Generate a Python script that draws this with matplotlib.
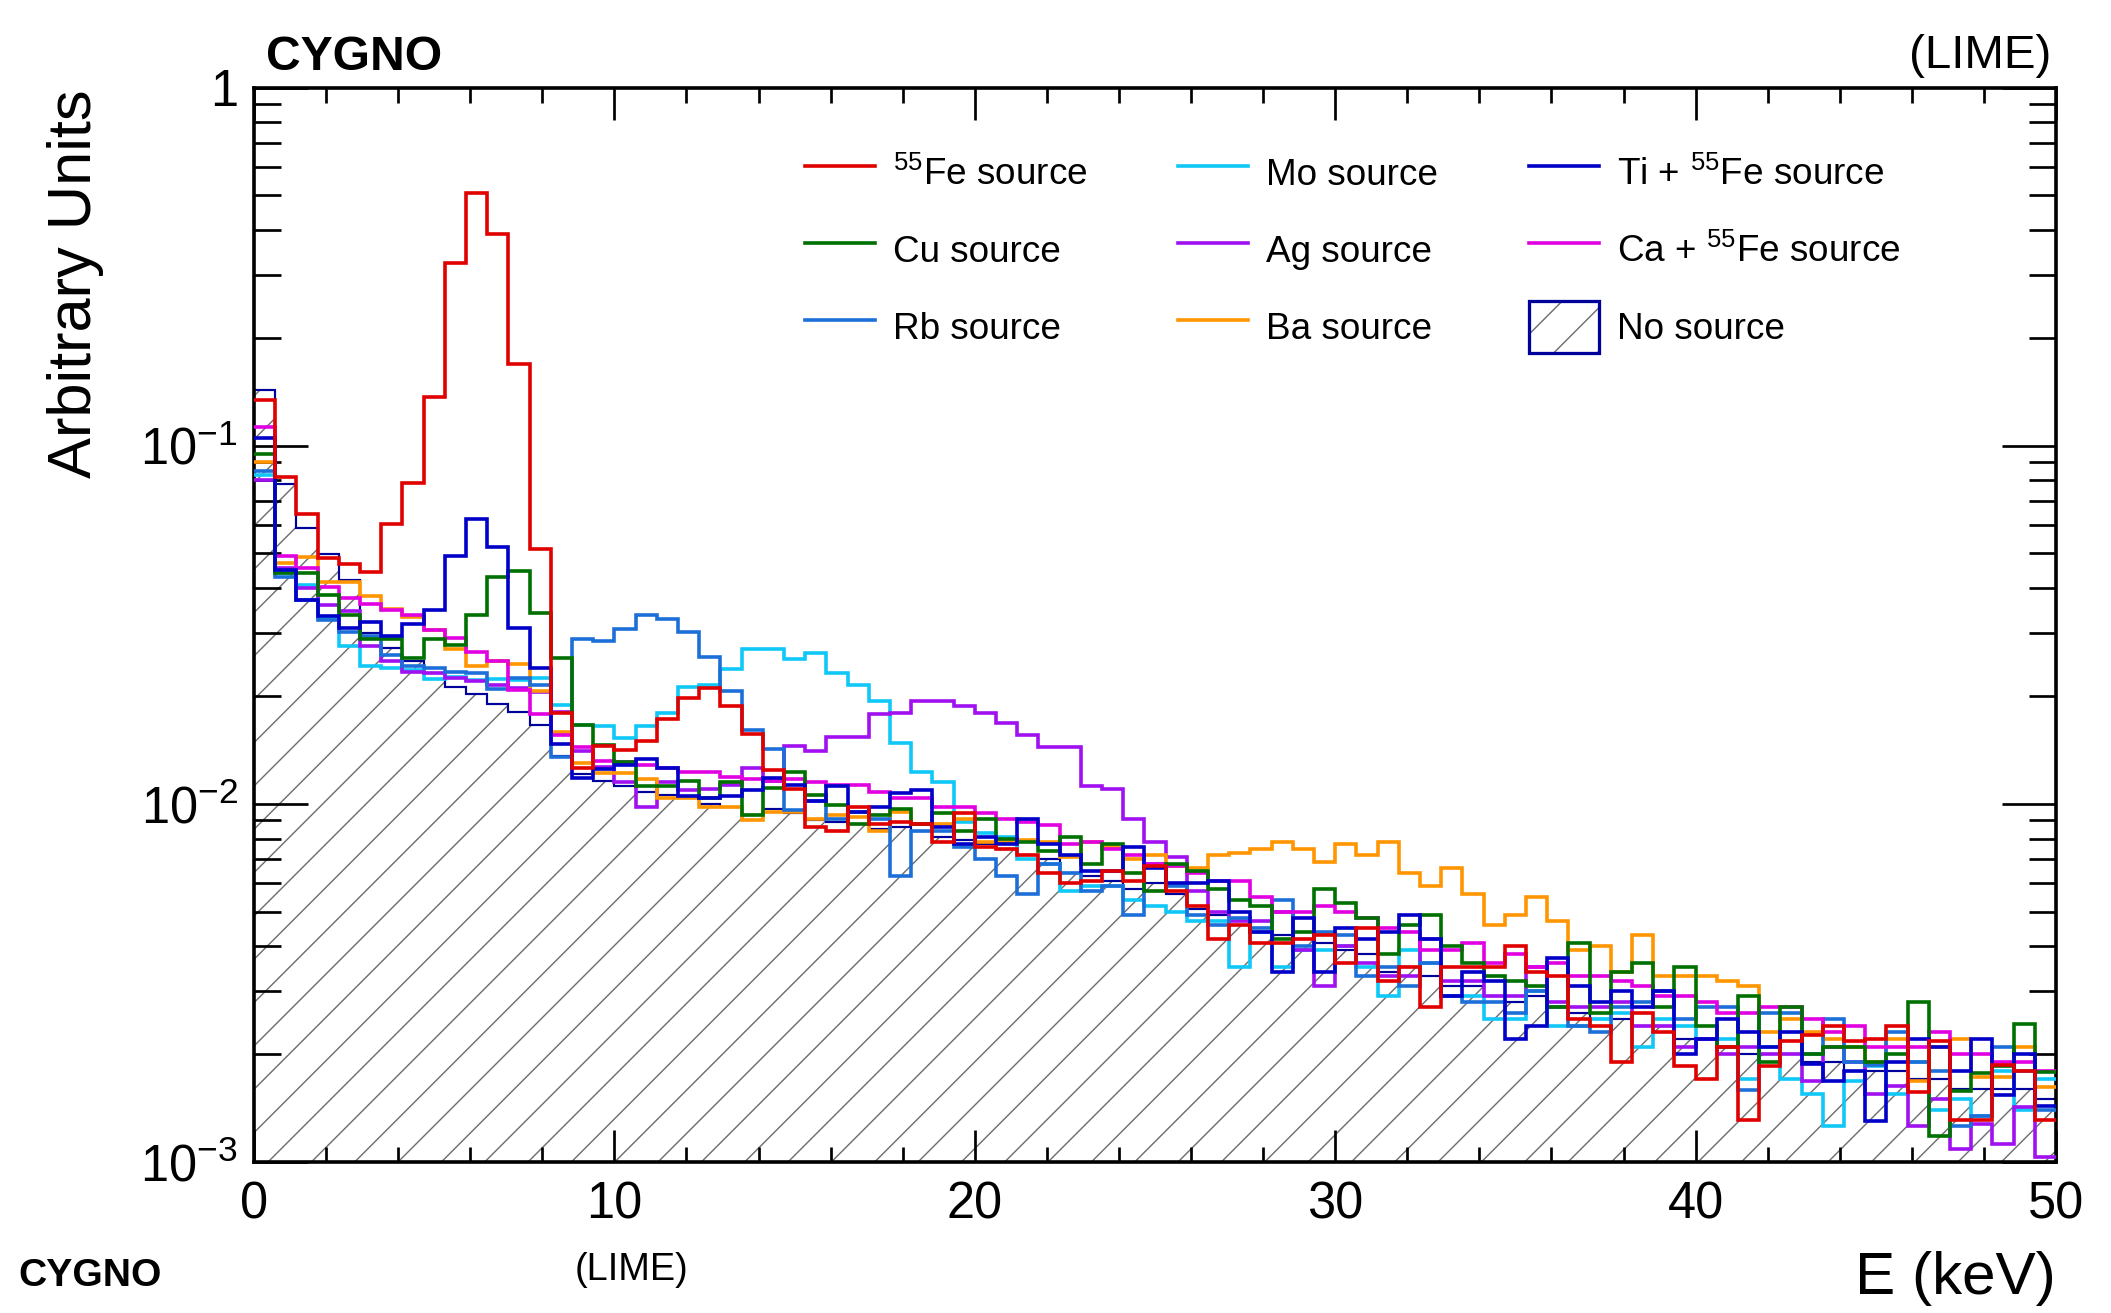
import numpy as np
import matplotlib
matplotlib.use("Agg")
import matplotlib.pyplot as plt
from matplotlib.lines import Line2D
from matplotlib.patches import Patch
from matplotlib.legend_handler import HandlerTuple
from matplotlib.ticker import MultipleLocator, LogLocator, NullFormatter

plt.rcParams['font.family'] = ['Liberation Sans', 'DejaVu Sans']
plt.rcParams['mathtext.fontset'] = 'custom'
plt.rcParams['mathtext.rm'] = 'Liberation Sans'
plt.rcParams['mathtext.it'] = 'Liberation Sans:italic'
plt.rcParams['mathtext.bf'] = 'Liberation Sans:bold'
plt.rcParams['hatch.linewidth'] = 0.8

# ---------------- data (85 bins, 0-50 keV) ----------------
E_MIN, E_MAX, N_BINS = 0.0, 50.0, 85

fe55 = [0.134, 0.0815, 0.0646, 0.0486, 0.0466, 0.0443, 0.0606, 0.0788, 0.137, 0.323,
        0.508, 0.390, 0.169, 0.0515, 0.0179, 0.0126, 0.0145, 0.0141, 0.0150, 0.0173,
        0.0197, 0.0211, 0.0187, 0.0157, 0.0124, 0.0110, 0.0086, 0.0084, 0.0098, 0.0088,
        0.0089, 0.0088, 0.0078, 0.0094, 0.0076, 0.0075, 0.0072, 0.0064, 0.0060, 0.0061,
        0.0065, 0.0061, 0.0067, 0.0057, 0.0052, 0.0042, 0.0046, 0.0041, 0.0041, 0.0042,
        0.0043, 0.0036, 0.0045, 0.0032, 0.0035, 0.0027, 0.0035, 0.0035, 0.0035, 0.0040,
        0.0034, 0.0033, 0.0025, 0.0024, 0.0019, 0.0026, 0.00231, 0.00185, 0.00171, 0.0021,
        0.00131, 0.00185, 0.00217, 0.00226, 0.00239, 0.00217, 0.0022, 0.0024, 0.00157, 0.00217,
        0.00131, 0.00131, 0.00186, 0.0018, 0.00131]

cu = [0.095, 0.0440, 0.0440, 0.0384, 0.0337, 0.0288, 0.0288, 0.0256, 0.0288, 0.0278,
      0.0337, 0.0431, 0.0448, 0.0340, 0.0256, 0.0166, 0.0146, 0.0131, 0.0112, 0.0112,
      0.0116, 0.0104, 0.0115, 0.0093, 0.0111, 0.0123, 0.0106, 0.0099, 0.0088, 0.0093,
      0.0097, 0.0088, 0.0094, 0.0084, 0.0091, 0.0080, 0.0078, 0.0074, 0.0081, 0.0068,
      0.0077, 0.0064, 0.0057, 0.0068, 0.0065, 0.0058, 0.0054, 0.0052, 0.0042, 0.0044,
      0.0058, 0.0053, 0.0048, 0.0038, 0.0046, 0.0049, 0.0040, 0.0036, 0.0033, 0.0032,
      0.0031, 0.0027, 0.0041, 0.0026, 0.0034, 0.0036, 0.0027, 0.0035, 0.0024, 0.0021,
      0.0029, 0.0019, 0.0027, 0.0020, 0.0021, 0.0021, 0.0019, 0.0020, 0.0028, 0.00118,
      0.00158, 0.00177, 0.00185, 0.00243, 0.00178]

rb = [0.0848, 0.0431, 0.0371, 0.0325, 0.0302, 0.0294, 0.0261, 0.0242, 0.0239, 0.0234,
      0.0232, 0.0209, 0.0225, 0.0215, 0.0135, 0.0288, 0.0284, 0.0307, 0.0337, 0.0329,
      0.0302, 0.0257, 0.0207, 0.0161, 0.0142, 0.0096, 0.0102, 0.0091, 0.0095, 0.0091,
      0.0063, 0.0084, 0.0084, 0.0076, 0.0070, 0.0063, 0.0056, 0.0068, 0.0064, 0.0057,
      0.0059, 0.0049, 0.0068, 0.0059, 0.0049, 0.0046, 0.0048, 0.0045, 0.0054, 0.0040,
      0.0044, 0.0043, 0.0033, 0.0035, 0.0031, 0.0036, 0.0029, 0.0028, 0.0028, 0.0026,
      0.0030, 0.0027, 0.0024, 0.0023, 0.0027, 0.0028, 0.0030, 0.0025, 0.0027, 0.0027,
      0.00159, 0.0026, 0.0026, 0.0020, 0.0025, 0.0019, 0.00186, 0.0023, 0.0019, 0.0018,
      0.00126, 0.00134, 0.0021, 0.0018, 0.0014]

mo = [0.083, 0.044, 0.0408, 0.033, 0.0276, 0.0242, 0.0240, 0.0236, 0.0223, 0.0226,
      0.0221, 0.0223, 0.0221, 0.0225, 0.0189, 0.0166, 0.0165, 0.0153, 0.0165, 0.0179,
      0.0212, 0.0215, 0.0238, 0.0270, 0.0270, 0.0253, 0.0263, 0.0232, 0.0214, 0.0194,
      0.0148, 0.0123, 0.0115, 0.0089, 0.0083, 0.0081, 0.0070, 0.0068, 0.0057, 0.0059,
      0.0059, 0.0054, 0.0052, 0.0050, 0.0047, 0.0047, 0.0035, 0.0044, 0.0035, 0.0039,
      0.0039, 0.0040, 0.0035, 0.0029, 0.0039, 0.0036, 0.0029, 0.0029, 0.0025, 0.0025,
      0.0030, 0.0024, 0.0024, 0.0025, 0.0026, 0.0021, 0.0025, 0.0024, 0.0022, 0.0022,
      0.0017, 0.0021, 0.0017, 0.00155, 0.00126, 0.00168, 0.00185, 0.00155, 0.0019, 0.0014,
      0.0015, 0.00134, 0.0018, 0.0014, 0.0017]

ag = [0.080, 0.0455, 0.0400, 0.0360, 0.0345, 0.0276, 0.0250, 0.0234, 0.0232, 0.0225,
      0.0220, 0.0215, 0.0210, 0.0205, 0.0180, 0.0140, 0.0127, 0.0115, 0.0098, 0.0115,
      0.0109, 0.0110, 0.0113, 0.0126, 0.0116, 0.0145, 0.0140, 0.0154, 0.0154, 0.0178,
      0.0179, 0.0194, 0.0194, 0.0187, 0.0179, 0.0168, 0.0156, 0.0144, 0.0144, 0.0112,
      0.0110, 0.0091, 0.0078, 0.0071, 0.0057, 0.0050, 0.0047, 0.0047, 0.0050, 0.0039,
      0.0031, 0.0040, 0.0036, 0.0033, 0.0033, 0.0042, 0.0032, 0.0032, 0.0029, 0.0029,
      0.0035, 0.0028, 0.0027, 0.0027, 0.0028, 0.0024, 0.0024, 0.0021, 0.0022, 0.0020,
      0.0021, 0.0020, 0.0020, 0.00168, 0.0021, 0.0019, 0.00155, 0.00163, 0.00126, 0.0015,
      0.00109, 0.00128, 0.00112, 0.00142, 0.00103]

ba = [0.090, 0.0469, 0.0489, 0.0416, 0.0416, 0.0381, 0.0350, 0.0333, 0.0305, 0.0270,
      0.0242, 0.0251, 0.0245, 0.0206, 0.0159, 0.0130, 0.0122, 0.0122, 0.0117, 0.0104,
      0.0104, 0.0098, 0.0098, 0.0090, 0.0095, 0.0095, 0.0091, 0.0093, 0.0092, 0.0084,
      0.0095, 0.0088, 0.0088, 0.0091, 0.0078, 0.0078, 0.0079, 0.0078, 0.0071, 0.0078,
      0.0076, 0.0070, 0.0072, 0.0067, 0.0066, 0.0072, 0.0073, 0.0075, 0.0078, 0.0075,
      0.0069, 0.0077, 0.0072, 0.0078, 0.0064, 0.0059, 0.0066, 0.0056, 0.0046, 0.0049,
      0.0055, 0.0047, 0.0039, 0.0040, 0.0034, 0.0043, 0.0033, 0.0033, 0.0033, 0.0032,
      0.0031, 0.0023, 0.0025, 0.0023, 0.0022, 0.0021, 0.0019, 0.0022, 0.00168, 0.0021,
      0.0022, 0.00173, 0.00173, 0.0021, 0.00162]

ca_fe = [0.113, 0.0492, 0.0454, 0.0404, 0.0376, 0.0362, 0.0348, 0.0337, 0.0306, 0.0290,
         0.0265, 0.0250, 0.0208, 0.0178, 0.0156, 0.0144, 0.0132, 0.0131, 0.0128, 0.0126,
         0.0123, 0.0123, 0.0119, 0.0117, 0.0116, 0.0117, 0.0115, 0.0113, 0.0113, 0.0108,
         0.0104, 0.0104, 0.0098, 0.0098, 0.0094, 0.0091, 0.0089, 0.0087, 0.0077, 0.0078,
         0.0075, 0.0072, 0.0068, 0.0067, 0.0064, 0.0061, 0.0061, 0.0055, 0.0050, 0.0050,
         0.0052, 0.0050, 0.0048, 0.0045, 0.0044, 0.0039, 0.0039, 0.0041, 0.0036, 0.0038,
         0.0035, 0.0036, 0.0033, 0.0033, 0.0032, 0.0031, 0.0029, 0.0029, 0.0028, 0.0026,
         0.0026, 0.0027, 0.0027, 0.0025, 0.0023, 0.0024, 0.0021, 0.0021, 0.0021, 0.0023,
         0.0020, 0.0020, 0.0019, 0.0019, 0.0018]

ti_fe = [0.105, 0.045, 0.037, 0.0335, 0.031, 0.0322, 0.0295, 0.0317, 0.0348, 0.0492,
         0.0625, 0.0521, 0.0310, 0.0239, 0.0147, 0.0118, 0.0125, 0.0128, 0.0133, 0.0126,
         0.0105, 0.0104, 0.0105, 0.0109, 0.0118, 0.0113, 0.0102, 0.0112, 0.0095, 0.0098,
         0.0107, 0.0109, 0.0086, 0.0077, 0.0081, 0.0077, 0.0091, 0.0077, 0.0072, 0.0065,
         0.0065, 0.0076, 0.0066, 0.0060, 0.0060, 0.0061, 0.0050, 0.0044, 0.0034, 0.0048,
         0.0034, 0.0045, 0.0042, 0.0044, 0.0049, 0.0042, 0.0029, 0.0034, 0.0032, 0.0022,
         0.0024, 0.0037, 0.0031, 0.0028, 0.0030, 0.0027, 0.0030, 0.0020, 0.0022, 0.0025,
         0.0023, 0.0021, 0.0023, 0.00188, 0.00168, 0.0018, 0.00130, 0.0019, 0.0022, 0.0021,
         0.0018, 0.0022, 0.00154, 0.0020, 0.00143]

no_source = [0.143, 0.078, 0.059, 0.0497, 0.0422, 0.0300, 0.0272, 0.0250, 0.0232, 0.0212,
             0.0203, 0.0190, 0.0181, 0.0166, 0.0136, 0.0121, 0.0116, 0.0112, 0.0108, 0.0106,
             0.0104, 0.0100, 0.0098, 0.0093, 0.0097, 0.0094, 0.0090, 0.0089, 0.0088, 0.0085,
             0.0086, 0.0084, 0.0081, 0.0079, 0.0077, 0.0075, 0.0072, 0.0070, 0.0064, 0.0063,
             0.0061, 0.0058, 0.0060, 0.0056, 0.0051, 0.0049, 0.0046, 0.0045, 0.0043, 0.0042,
             0.0041, 0.0039, 0.0038, 0.0034, 0.0035, 0.0033, 0.0031, 0.0031, 0.0029, 0.0028,
             0.0029, 0.0027, 0.0026, 0.0025, 0.0025, 0.0024, 0.0024, 0.0022, 0.0022, 0.0021,
             0.0020, 0.0020, 0.0020, 0.0019, 0.0019, 0.0018, 0.0018, 0.0018, 0.0017, 0.0017,
             0.0016, 0.0016, 0.0016, 0.0016, 0.0015]

labels = [r'$^{55}$Fe source', 'Cu source', 'Rb source',
          'Mo source', 'Ag source', 'Ba source',
          r'Ti + $^{55}$Fe source', r'Ca + $^{55}$Fe source', 'No source']
y_ticks = [1e-3, 1e-2, 1e-1, 1.0]
y_ticklabels = [r'$10^{-3}$', r'$10^{-2}$', r'$10^{-1}$', '1']
x_ticks = [0, 10, 20, 30, 40, 50]

# ---------------- styling ----------------
C_FE = '#e00000'
C_CU = '#007000'
C_RB = '#1c6fd8'
C_MO = '#10c8f8'
C_AG = '#a010f0'
C_BA = '#ff9500'
C_CA = '#e000e0'
C_TI = '#0000c8'
C_NO = '#00009a'
C_HATCH = '#707070'
LW = 2.0

W, H, DPI = 2111, 1313, 130
fig = plt.figure(figsize=(W / DPI, H / DPI), dpi=DPI)
L, R, T, B = 254, 2056, 87.5, 1162
ax = fig.add_axes([L / W, 1 - B / H, (R - L) / W, (B - T) / H])

edges = np.linspace(E_MIN, E_MAX, N_BINS + 1)

# No source: hatched fill + navy outline
ax.stairs(no_source, edges, baseline=1e-6, fill=True, facecolor='none',
          edgecolor=C_HATCH, hatch='/', linewidth=0, zorder=1)
ax.stairs(no_source, edges, baseline=None, color=C_NO, linewidth=1.2, zorder=2)

series = [(mo, C_MO), (ag, C_AG), (ba, C_BA), (rb, C_RB), (ca_fe, C_CA),
          (cu, C_CU), (ti_fe, C_TI), (fe55, C_FE)]
for vals, col in series:
    ax.stairs(vals, edges, baseline=None, color=col, linewidth=LW, zorder=3)

ax.set_xlim(E_MIN, E_MAX)
ax.set_yscale('log')
ax.set_ylim(1e-3, 1.0)

ax.set_xticks(x_ticks)
ax.set_xticklabels([str(v) for v in x_ticks])
ax.xaxis.set_minor_locator(MultipleLocator(2))
ax.set_yticks(y_ticks)
ax.set_yticklabels(y_ticklabels)
ax.yaxis.set_minor_locator(LogLocator(base=10, subs=np.arange(2, 10)))
ax.yaxis.set_minor_formatter(NullFormatter())

ax.tick_params(axis='both', which='both', direction='in', top=True, right=True,
               width=1.5, labelsize=28)
ax.tick_params(axis='x', which='major', length=17.5, pad=10)
ax.tick_params(axis='x', which='minor', length=8.5)
ax.tick_params(axis='y', which='major', length=30, pad=9)
ax.tick_params(axis='y', which='minor', length=15)
for sp in ax.spines.values():
    sp.set_linewidth(2.0)

# ---------------- legend ----------------
cols = [C_FE, C_CU, C_RB, C_MO, C_AG, C_BA, C_TI, C_CA]
handles = [Line2D([], [], color=c, lw=LW) for c in cols]
h_hatch = Patch(facecolor='white', edgecolor=C_HATCH, hatch='/', linewidth=0)
h_box = Patch(facecolor='none', edgecolor=C_NO, linewidth=1.8)
handles.append((h_hatch, h_box))
leg = ax.legend(handles, labels, ncol=3, loc='upper left',
                bbox_to_anchor=(805 / W, 1 - 147 / H), bbox_transform=fig.transFigure,
                frameon=False, fontsize=20.4, handlelength=1.9, handleheight=1.79,
                handletextpad=0.48, columnspacing=2.48, labelspacing=0.68,
                borderpad=0, borderaxespad=0,
                handler_map={tuple: HandlerTuple(ndivide=1)})

# ---------------- texts ----------------
fig.text(266 / W, 1 - 70 / H, 'CYGNO', fontsize=26.6, fontweight='bold',
         ha='left', va='baseline')
fig.text(2051 / W, 1 - 68 / H, '(LIME)', fontsize=26.3, ha='right', va='baseline')
fig.text(76 / W, 1 - 89 / H, 'Arbitrary Units', fontsize=34, rotation=90,
         ha='center', va='top')
fig.text(R / W, 1 - 1294 / H, 'E (keV)', fontsize=33.4, ha='right', va='baseline')
fig.text(18 / W, 1 - 1286 / H, 'CYGNO', fontsize=21.7, fontweight='bold',
         ha='left', va='baseline')
fig.text(575 / W, 1 - 1280 / H, '(LIME)', fontsize=21, ha='left', va='baseline')

fig.savefig('out.png', dpi=DPI, facecolor='white')
